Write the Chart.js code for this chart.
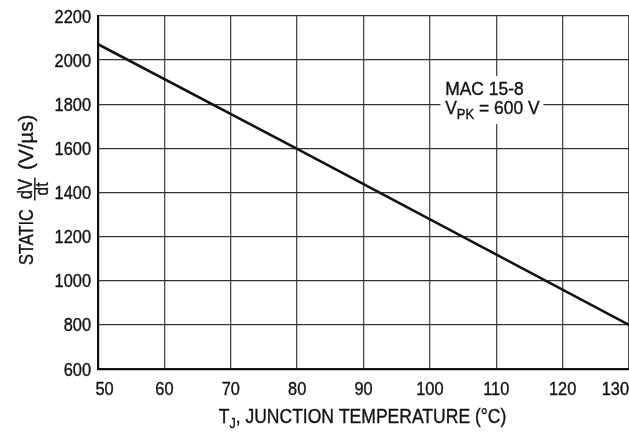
<!DOCTYPE html>
<html>
<head>
<meta charset="utf-8">
<script src="https://cdn.jsdelivr.net/npm/chart.js@4/dist/chart.umd.min.js"></script>
<style>
  html, body { margin: 0; padding: 0; background: #fff; overflow: hidden; }
  canvas { display: block; }
</style>
</head>
<body>
<canvas id="c" width="629" height="434"></canvas>
<script>
// ---- data ----
const tempC = [50, 80, 130];             // T_J, junction temperature (°C)
const staticDvDt = [2072, 1598, 800];    // static dV/dt (V/µs)
const xTicks = [50, 60, 70, 80, 90, 100, 110, 120, 130];
const yTicks = [600, 800, 1000, 1200, 1400, 1600, 1800, 2000, 2200];
const noteLines = ['MAC 15-8', 'V', 'PK', ' = 600 V'];
const xTitleParts = ['T', 'J', ', JUNCTION TEMPERATURE (°C)'];
const yTitleParts = ['STATIC', 'dV', 'dt', '(V/µs)'];

const FONT = "'Liberation Sans', Arial, sans-serif";
const INK = '#111';

const points = tempC.map((t, i) => ({ x: t, y: staticDvDt[i] }));

// draw horizontally condensed text; returns drawn width
function condText(ctx, text, x, y, size, sx, align) {
  ctx.font = size + 'px ' + FONT;
  const w = ctx.measureText(text).width * sx;
  let x0 = x;
  if (align === 'center') x0 = x - w / 2;
  else if (align === 'right') x0 = x - w;
  ctx.save();
  ctx.translate(x0, y);
  ctx.scale(sx, 1);
  ctx.textAlign = 'left';
  ctx.textBaseline = 'alphabetic';
  ctx.fillText(text, 0, 0);
  ctx.strokeStyle = ctx.fillStyle;
  ctx.lineWidth = 0.35;
  ctx.strokeText(text, 0, 0);
  ctx.restore();
  return w;
}
function condWidth(ctx, text, size, sx) {
  ctx.font = size + 'px ' + FONT;
  return ctx.measureText(text).width * sx;
}

const TICK_SIZE = 18.2, TICK_SX = 0.9;
const TITLE_SIZE = 21, TITLE_SX = 0.835;
const NOTE_SIZE = 18.8, NOTE_SX = 0.93;

const labelsPlugin = {
  id: 'labels',
  afterDatasetsDraw(chart) {
    const ctx = chart.ctx;
    const xs = chart.scales.x, ys = chart.scales.y;
    ctx.save();
    // white box behind note
    const bx0 = xs.getPixelForValue(101.6), bx1 = xs.getPixelForValue(117.1);
    const by0 = ys.getPixelForValue(1928), by1 = ys.getPixelForValue(1711);
    ctx.fillStyle = '#fff';
    ctx.fillRect(bx0, by0, bx1 - bx0, by1 - by0);
    ctx.fillStyle = INK;
    const tx = xs.getPixelForValue(102.3);
    condText(ctx, noteLines[0], tx, ys.getPixelForValue(1842), NOTE_SIZE, NOTE_SX, 'left');
    const b2 = ys.getPixelForValue(1756);
    let w = condText(ctx, noteLines[1], tx, b2, NOTE_SIZE, NOTE_SX, 'left');
    w += condText(ctx, noteLines[2], tx + w, b2 + 5, 14, NOTE_SX, 'left');
    condText(ctx, noteLines[3], tx + w, b2, NOTE_SIZE, NOTE_SX, 'left');
    ctx.restore();
  },
  afterDraw(chart) {
    const ctx = chart.ctx;
    const xs = chart.scales.x, ys = chart.scales.y;
    const area = chart.chartArea;
    ctx.save();
    ctx.fillStyle = INK;

    // X tick labels
    xTicks.forEach((v, i) => {
      const px = xs.getPixelForValue(v);
      const label = String(v);
      if (i === 0) condText(ctx, label, px - 2.5, area.bottom + 26.3, TICK_SIZE, TICK_SX, 'left');
      else if (i === xTicks.length - 1) condText(ctx, label, chart.width, area.bottom + 26.3, TICK_SIZE, TICK_SX, 'right');
      else condText(ctx, label, px, area.bottom + 26.3, TICK_SIZE, TICK_SX, 'center');
    });
    // Y tick labels
    yTicks.forEach(v => {
      const py = ys.getPixelForValue(v);
      condText(ctx, String(v), area.left - 7, py + 6.5, TICK_SIZE, TICK_SX, 'right');
    });

    // X title
    const w0 = condWidth(ctx, xTitleParts[0], TITLE_SIZE, TITLE_SX);
    const w1 = condWidth(ctx, xTitleParts[1], 15, TITLE_SX);
    const w2 = condWidth(ctx, xTitleParts[2], TITLE_SIZE, TITLE_SX);
    const cx = 362.5;
    let x = cx - (w0 + w1 + w2) / 2;
    const by = 423.3;
    condText(ctx, xTitleParts[0], x, by, TITLE_SIZE, TITLE_SX, 'left');
    condText(ctx, xTitleParts[1], x + w0, by + 4.5, 15, TITLE_SX, 'left');
    condText(ctx, xTitleParts[2], x + w0 + w1, by, TITLE_SIZE, TITLE_SX, 'left');

    // Y title (rotated): u = -screenY, v = screenX
    ctx.save();
    ctx.rotate(-Math.PI / 2);
    condText(ctx, yTitleParts[0], -265, 33, TITLE_SIZE, 0.78, 'left');
    const fc = -189;
    condText(ctx, yTitleParts[1], fc, 32, 19.5, 0.85, 'center');
    condText(ctx, yTitleParts[2], fc, 47.5, 18, 0.85, 'center');
    ctx.strokeStyle = INK;
    ctx.lineWidth = 1.4;
    ctx.beginPath();
    ctx.moveTo(fc - 11.5, 34.8);
    ctx.lineTo(fc + 11.5, 34.8);
    ctx.stroke();
    condText(ctx, yTitleParts[3], -170, 33, TITLE_SIZE, 0.98, 'left');
    ctx.restore();
    ctx.restore();
  }
};

new Chart(document.getElementById('c'), {
  type: 'scatter',
  data: {
    datasets: [{
      data: points,
      showLine: true,
      borderColor: '#111',
      borderWidth: 2.6,
      pointRadius: 0,
      fill: false,
      tension: 0
    }]
  },
  options: {
    responsive: false,
    animation: false,
    events: [],
    layout: { padding: { top: 16, right: 0, left: 0, bottom: 0 } },
    plugins: { legend: { display: false }, tooltip: { enabled: false } },
    scales: {
      x: {
        type: 'linear',
        min: 50, max: 130,
        afterBuildTicks(s) { s.ticks = xTicks.map(v => ({ value: v })); },
        afterFit(s) { s.height = 65; s.paddingLeft = 0; s.paddingRight = 0; },
        grid: { color: '#4a4a4a', lineWidth: 1.3, drawTicks: false },
        border: { display: true, color: '#111', width: 2.2 },
        ticks: { display: false }
      },
      y: {
        type: 'linear',
        min: 600, max: 2200,
        afterBuildTicks(s) { s.ticks = yTicks.map(v => ({ value: v })); },
        afterFit(s) { s.width = 98; s.paddingTop = 0; s.paddingBottom = 0; },
        grid: { color: '#333', lineWidth: 1.3, drawTicks: false },
        border: { display: true, color: '#111', width: 2.2 },
        ticks: { display: false }
      }
    }
  },
  plugins: [labelsPlugin]
});
</script>
</body>
</html>
